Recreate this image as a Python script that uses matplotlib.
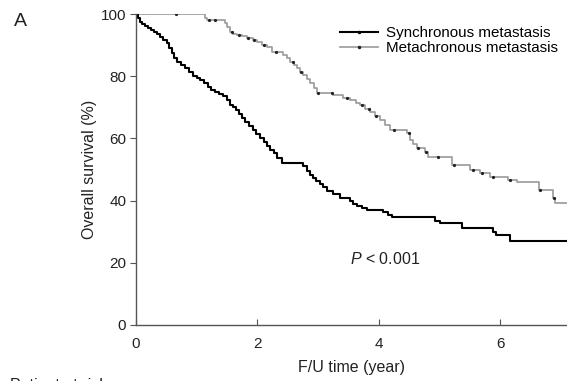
import numpy as np
import matplotlib
matplotlib.use("Agg")
import matplotlib.pyplot as plt
from matplotlib.lines import Line2D

plt.rcParams['font.family'] = ['Liberation Sans', 'DejaVu Sans']
plt.rcParams['mathtext.fontset'] = 'custom'
plt.rcParams['mathtext.it'] = 'Liberation Sans:italic'
plt.rcParams['mathtext.rm'] = 'Liberation Sans'

# Kaplan-Meier step corners (time in years, survival in %)
sync_t = [0, 0.03, 0.06, 0.10, 0.14, 0.19, 0.24, 0.29, 0.35, 0.40, 0.45, 0.51,
          0.55, 0.59, 0.63, 0.68, 0.74, 0.80, 0.87, 0.94, 1.00, 1.06, 1.12, 1.18,
          1.24, 1.30, 1.36, 1.43, 1.50, 1.55, 1.60, 1.65, 1.70, 1.75, 1.80, 1.86,
          1.92, 1.98, 2.04, 2.10, 2.16, 2.21, 2.27, 2.32, 2.40, 2.75, 2.81, 2.87,
          2.92, 2.97, 3.03, 3.08, 3.14, 3.25, 3.36, 3.53, 3.58, 3.64, 3.72, 3.80,
          4.07, 4.15, 4.22, 4.93, 5.01, 5.37, 5.88, 5.93, 6.16, 7.3]
sync_s = [100, 98.6, 97.6, 96.8, 96.2, 95.5, 94.8, 94.2, 93.5, 92.6, 91.6, 90.6,
          89.0, 87.4, 85.8, 84.6, 83.6, 82.6, 81.4, 80.2, 79.4, 78.8, 77.8, 76.6,
          75.6, 74.8, 74.2, 73.5, 72.4, 70.8, 70.0, 69.0, 67.8, 66.6, 65.2, 64.0,
          62.8, 61.4, 60.2, 58.8, 57.6, 56.4, 55.2, 53.8, 52.2, 51.0, 49.6, 48.4,
          47.4, 46.4, 45.4, 44.4, 43.2, 42.0, 40.8, 39.8, 39.0, 38.2, 37.6, 37.0,
          36.3, 35.5, 34.7, 33.6, 32.8, 31.2, 29.8, 28.9, 27.0, 27.0]

meta_t = [0, 1.14, 1.17, 1.46, 1.50, 1.55, 1.60, 1.66, 1.75, 1.83, 1.92, 1.99,
          2.08, 2.16, 2.24, 2.42, 2.48, 2.54, 2.60, 2.65, 2.70, 2.75, 2.81, 2.87,
          2.93, 2.98, 3.25, 3.41, 3.53, 3.62, 3.69, 3.78, 3.86, 3.94, 4.02, 4.10,
          4.18, 4.46, 4.51, 4.56, 4.63, 4.76, 4.81, 5.21, 5.50, 5.67, 5.83, 6.13,
          6.27, 6.64, 6.87, 6.90, 7.3]
meta_s = [100, 98.8, 98.1, 97.0, 95.8, 94.2, 93.6, 93.2, 92.8, 92.4, 91.6, 91.0,
          90.2, 89.4, 87.8, 87.0, 85.8, 84.6, 83.6, 82.6, 81.4, 80.4, 79.0, 77.8,
          76.2, 74.6, 74.0, 73.0, 72.3, 71.4, 70.7, 69.6, 68.5, 67.2, 65.9, 64.2,
          62.7, 61.7, 59.5, 58.2, 56.9, 55.6, 54.0, 51.4, 49.8, 48.9, 47.6, 46.6,
          46.0, 43.4, 40.8, 39.2, 39.2]

# censored observations (tick marks) on the metachronous curve
meta_cens = [0.66, 1.20, 1.30, 1.58, 1.70, 1.85, 1.95, 2.10, 2.30, 2.58, 2.72,
             3.00, 3.22, 3.48, 3.72, 3.83, 3.95, 4.25, 4.50, 4.65, 4.78, 4.97,
             5.24, 5.55, 5.70, 5.88, 6.16, 6.66, 6.88]

labels = ["Synchronous metastasis", "Metachronous metastasis"]
gray = "#9a9a9a"


def surv_at(times, surv, x):
    idx = np.searchsorted(times, x, side='right') - 1
    return np.asarray(surv)[idx]


fig = plt.figure(figsize=(5.67, 3.81), dpi=100)
ax = fig.add_axes([0.24, 0.147, 0.76, 0.816])

ax.step(meta_t, meta_s, where='post', color=gray, lw=1.2)
ax.step(sync_t, sync_s, where='post', color='black', lw=1.5)
ax.plot(meta_cens, surv_at(meta_t, meta_s, meta_cens), ls='none',
        marker='o', ms=1.3, color='#222222')

ax.set_xlim(0, 7.1)
ax.set_ylim(0, 100)
ax.set_xticks([0, 2, 4, 6])
ax.set_yticks([0, 20, 40, 60, 80, 100])
for s in ['top', 'right']:
    ax.spines[s].set_visible(False)
for s in ['left', 'bottom']:
    ax.spines[s].set_color('#555555')
    ax.spines[s].set_linewidth(1.0)
ax.tick_params(axis='x', direction='in', length=4, pad=9, labelsize=11,
               colors='#555555', labelcolor='#222222')
ax.tick_params(axis='y', direction='out', length=4, pad=3, labelsize=11,
               colors='#555555', labelcolor='#222222')

ax.set_xlabel("F/U time (year)", fontsize=11.5, color='#222222', labelpad=6)
ax.set_ylabel("Overall survival (%)", fontsize=11.5, color='#222222', labelpad=3)

handles = [Line2D([], [], color='black', lw=1.5, marker='o', ms=1.5,
                  markevery=[1], markerfacecolor='#222222'),
           Line2D([], [], color=gray, lw=1.2, marker='o', ms=1.5,
                  markevery=[1], markerfacecolor='#222222', markeredgecolor='#222222')]
ax.legend(handles, labels, loc='upper right', bbox_to_anchor=(0.985, 0.932),
          bbox_transform=fig.transFigure, frameon=False, fontsize=10.9,
          handlelength=2.5, handletextpad=0.55, labelspacing=0.08,
          borderaxespad=0, borderpad=0.0)

ax.text(4.1, 21.2, r"$P$ < 0.001", fontsize=11.5, ha='center', va='center',
        color='#222222')

fig.text(0.025, 0.965, "A", fontsize=14, va='top', ha='left', color='#222222')
fig.text(0.017, 0.008, "Patient at risk", fontsize=11.5, va='top', ha='left',
         color='#222222')

fig.savefig("out.png", dpi=100)
